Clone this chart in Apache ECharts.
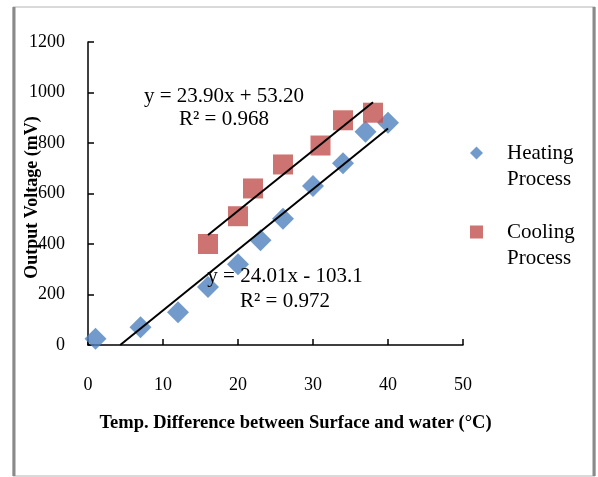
<!DOCTYPE html>
<html>
<head>
<meta charset="utf-8">
<script src="https://cdn.jsdelivr.net/npm/echarts@6/dist/echarts.min.js"></script>
<style>
  html, body { margin: 0; padding: 0; background: #fff; }
  #chart { width: 598px; height: 477px; }
</style>
</head>
<body>
<div id="chart"></div>
<script>
// 数据：加热 / 冷却过程
var heatTemp = [1, 7, 12, 16, 20, 23, 26, 30, 34, 37, 40];
var heatVolt = [25, 70, 130, 230, 320, 415, 500, 630, 720, 845, 880];
var coolTemp = [16, 20, 22, 26, 31, 34, 38];
var coolVolt = [400, 510, 620, 715, 790, 890, 920];

// 趋势线：斜率、截距
var heatFit = [24.01, -103.1];
var coolFit = [23.90, 53.20];

var xTicks = [0, 10, 20, 30, 40, 50];
var yTicks = [0, 200, 400, 600, 800, 1000, 1200];

var serif = '"Liberation Serif", "Times New Roman", serif';

function pairs(xs, ys) {
  return xs.map(function (x, i) { return [x, ys[i]]; });
}

// 趋势线端点，y < 0 的部分截掉
function fitLine(fit, xs) {
  var x0 = Math.min.apply(null, xs), x1 = Math.max.apply(null, xs);
  if (fit[0] * x0 + fit[1] < 0) x0 = -fit[1] / fit[0];
  return [[x0, fit[0] * x0 + fit[1]], [x1, fit[0] * x1 + fit[1]]];
}

var chart = echarts.init(document.getElementById('chart'));

var option = {
  backgroundColor: '#fff',
  animation: false,
  grid: { left: 88, right: 135, top: 42, bottom: 132, outerBoundsMode: 'none', containLabel: false },
  xAxis: {
    type: 'value',
    min: xTicks[0],
    max: xTicks[xTicks.length - 1],
    interval: 10,
    splitLine: { show: false },
    axisLine: { lineStyle: { color: '#000', width: 1.5 } },
    axisTick: { inside: true, length: 6, lineStyle: { color: '#000', width: 1.5 } },
    axisLabel: { margin: 31, color: '#000', fontSize: 18, fontFamily: serif },
    name: 'Temp. Difference between Surface and water (\u00b0C)',
    nameLocation: 'middle',
    nameGap: 69,
    nameMoveOverlap: false,
    nameTextStyle: {
      color: '#000', fontSize: 18.5, fontWeight: 'bold', fontFamily: serif,
      padding: [0, 0, 0, 40]
    }
  },
  yAxis: {
    type: 'value',
    min: yTicks[0],
    max: yTicks[yTicks.length - 1],
    interval: 200,
    splitLine: { show: false },
    axisLine: { show: true, lineStyle: { color: '#000', width: 1.5 } },
    axisTick: { show: true, inside: true, length: 6, lineStyle: { color: '#000', width: 1.5 } },
    axisLabel: {
      margin: 23, color: '#000', fontSize: 18, fontFamily: serif,
      formatter: function (v) { return String(v); }
    },
    name: 'Output Voltage (mV)',
    nameLocation: 'middle',
    nameGap: 47,
    nameMoveOverlap: false,
    nameTextStyle: {
      color: '#000', fontSize: 18, fontWeight: 'bold', fontFamily: serif,
      padding: [0, 8, 0, 0]
    }
  },
  legend: {
    orient: 'vertical',
    left: 465,
    top: 109,
    itemWidth: 13,
    itemHeight: 13,
    itemGap: 1,
    data: [
      { name: 'Heating\nProcess', icon: 'diamond' },
      { name: 'Cooling\nProcess', icon: 'rect' }
    ],
    // 前面空一行，让图标对齐第一行文字
    formatter: function (name) {
      return '\n' + name.split('\n').map(function (s) { return '{t|' + s + '}'; }).join('\n');
    },
    textStyle: {
      color: '#000', fontSize: 21, fontFamily: serif, lineHeight: 26,
      rich: { t: { fontSize: 21, fontFamily: serif, lineHeight: 26, padding: [0, 0, 0, 19] } }
    }
  },
  series: [
    {
      name: 'Heating\nProcess',
      type: 'scatter',
      symbol: 'diamond',
      symbolSize: 22,
      itemStyle: { color: '#4F81BD' },
      data: pairs(heatTemp, heatVolt),
      z: 3
    },
    {
      name: 'Cooling\nProcess',
      type: 'scatter',
      symbol: 'rect',
      symbolSize: 20,
      itemStyle: { color: '#C0504D' },
      data: pairs(coolTemp, coolVolt),
      z: 3
    },
    {
      type: 'line',
      data: fitLine(heatFit, heatTemp),
      symbol: 'none',
      lineStyle: { color: '#000', width: 2 },
      z: 4,
      silent: true
    },
    {
      type: 'line',
      data: fitLine(coolFit, coolTemp),
      symbol: 'none',
      lineStyle: { color: '#000', width: 2 },
      z: 4,
      silent: true
    }
  ],
  graphic: [
    {
      type: 'rect',
      shape: { x: 13, y: 7, width: 582, height: 469 },
      style: { fill: 'none', stroke: '#b4b4b4', lineWidth: 1 },
      silent: true
    },
    {
      type: 'line',
      shape: { x1: 14, y1: 7, x2: 14, y2: 476 },
      style: { stroke: '#8a8a8a', lineWidth: 3 },
      silent: true
    },
    {
      type: 'line',
      shape: { x1: 594, y1: 7, x2: 594, y2: 476 },
      style: { stroke: '#8a8a8a', lineWidth: 3 },
      silent: true
    },
    {
      type: 'text', x: 224, y: 108, z: 10,
      style: {
        text: 'y = 23.90x + 53.20\nR\u00b2 = 0.968',
        fill: '#000', font: '21px ' + serif, lineHeight: 23,
        align: 'center', verticalAlign: 'middle'
      }
    },
    {
      type: 'text', x: 285, y: 289, z: 10,
      style: {
        text: 'y = 24.01x - 103.1\nR\u00b2 = 0.972',
        fill: '#000', font: '21px ' + serif, lineHeight: 25,
        align: 'center', verticalAlign: 'middle'
      }
    }
  ]
};

chart.setOption(option);
</script>
</body>
</html>
